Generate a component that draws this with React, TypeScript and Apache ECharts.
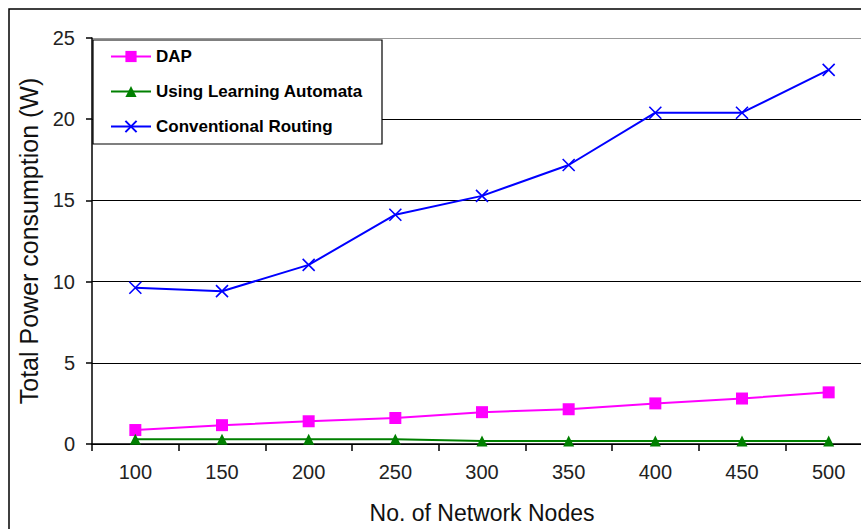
import React, { useEffect, useRef } from "react";
import * as echarts from "echarts";

const categories = ["100", "150", "200", "250", "300", "350", "400", "450", "500"];
const dapValues = [0.86, 1.16, 1.4, 1.6, 1.96, 2.14, 2.5, 2.8, 3.18];
const laValues = [0.3, 0.3, 0.3, 0.3, 0.18, 0.18, 0.18, 0.18, 0.18];
const convValues = [9.62, 9.41, 11.03, 14.12, 15.28, 17.18, 20.4, 20.4, 23.04];
const yTicks = [0, 5, 10, 15, 20, 25];

const FONT = "'Liberation Sans', Arial, sans-serif";
const CROSS = "path://M0,0L10,10M10,0L0,10";

export default function App() {
  const ref = useRef<HTMLDivElement>(null);
  useEffect(() => {
    if (!ref.current) return;
    const chart = echarts.init(ref.current, null, { renderer: "svg" });
    const option: any = {
      animation: false,
      backgroundColor: "#fff",
      textStyle: { fontFamily: FONT },
      grid: { left: 92, top: 38, right: 28, bottom: 82, containLabel: false },
      graphic: [
        {
          type: "rect",
          shape: { x: 9, y: 9, width: 1000, height: 1000 },
          style: { fill: "none", stroke: "#000", lineWidth: 1.5 },
          z: 10,
          silent: true,
        },
        {
          type: "rect",
          shape: { x: 93, y: 40, width: 289, height: 104 },
          style: { fill: "#fff", stroke: "#000", lineWidth: 1.2 },
          z: 3,
          silent: true,
        },
      ],
      legend: {
        orient: "vertical",
        left: 110,
        top: 48,
        padding: 0,
        itemWidth: 40,
        itemHeight: 14,
        itemGap: 18,
        textStyle: { fontFamily: FONT, fontSize: 17, fontWeight: "bold", color: "#000" },
        data: ["DAP", "Using Learning Automata", "Conventional Routing"],
        z: 5,
      },
      xAxis: {
        type: "category",
        data: categories,
        boundaryGap: true,
        name: "No. of Network Nodes",
        nameLocation: "middle",
        nameGap: 57,
        nameTextStyle: { fontFamily: FONT, fontSize: 23, color: "#111" },
        axisLine: { show: true, lineStyle: { color: "#000", width: 1.5 } },
        axisTick: { show: true, length: 7, lineStyle: { color: "#000", width: 1.5 } },
        axisLabel: { margin: 18, fontFamily: FONT, fontSize: 20, color: "#222" },
        splitLine: { show: false },
      },
      yAxis: {
        type: "value",
        min: yTicks[0],
        max: yTicks[yTicks.length - 1],
        interval: 5,
        name: "Total Power consumption (W)",
        nameLocation: "middle",
        nameRotate: 90,
        nameGap: 46,
        nameTextStyle: { fontFamily: FONT, fontSize: 25, color: "#111" },
        axisLine: { show: true, lineStyle: { color: "#000", width: 1.5 } },
        axisTick: { show: true, length: 6, lineStyle: { color: "#000", width: 1.5 } },
        axisLabel: { margin: 17, fontFamily: FONT, fontSize: 20, color: "#222" },
        splitLine: {
          show: true,
          lineStyle: { color: ["#000", "#000", "#000", "#000", "#000", "#999"], width: 1.2 },
        },
      },
      series: [
        {
          name: "DAP",
          type: "line",
          data: dapValues,
          symbol: "rect",
          symbolSize: 12,
          itemStyle: { color: "#FF00FF" },
          lineStyle: { color: "#FF00FF", width: 2 },
          z: 2,
        },
        {
          name: "Using Learning Automata",
          type: "line",
          data: laValues,
          symbol: "triangle",
          symbolSize: 11,
          itemStyle: { color: "#008000" },
          lineStyle: { color: "#008000", width: 2 },
          z: 2,
        },
        {
          name: "Conventional Routing",
          type: "line",
          data: convValues,
          symbol: CROSS,
          symbolSize: 12,
          itemStyle: { color: "none", borderColor: "#0000FF", borderWidth: 1.6 },
          lineStyle: { color: "#0000FF", width: 2 },
          z: 2,
        },
      ],
    };
    chart.setOption(option);
    return () => chart.dispose();
  }, []);
  return (
    <div
      style={{
        position: "fixed",
        left: 0,
        top: 0,
        width: 861,
        height: 529,
        overflow: "hidden",
        background: "#fff",
      }}
    >
      <div ref={ref} style={{ width: 900, height: 529 }} />
    </div>
  );
}
